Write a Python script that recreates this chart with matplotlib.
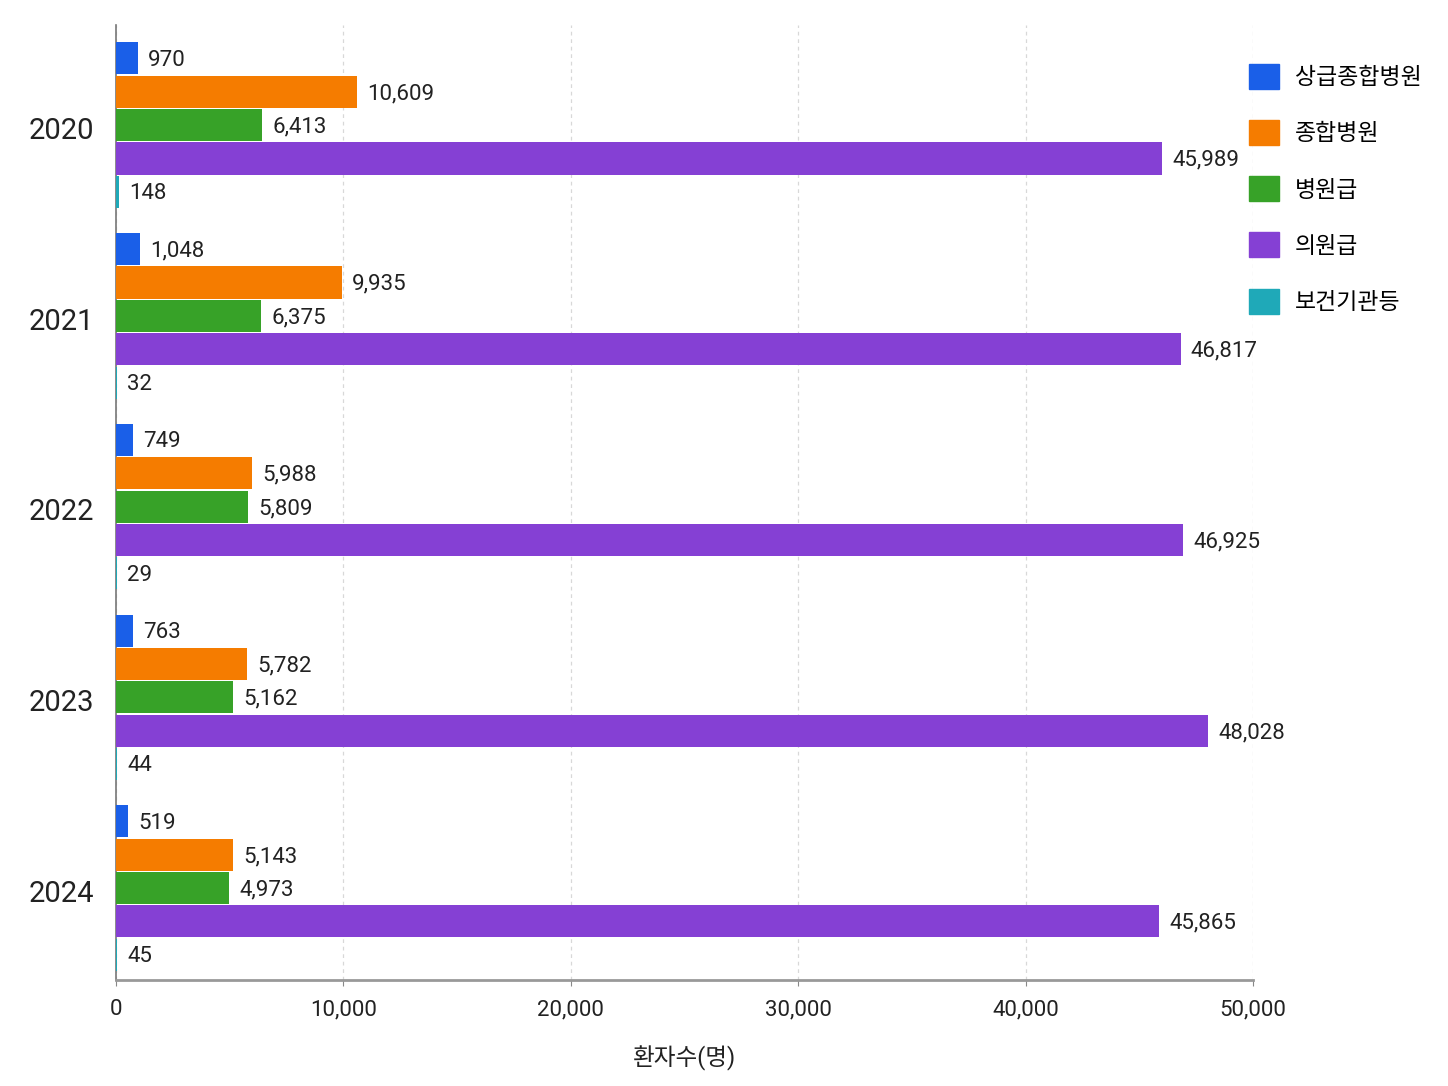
import matplotlib
matplotlib.use("Agg")
import matplotlib.pyplot as plt
from matplotlib.patches import Patch
import numpy as np

plt.rcParams['font.family'] = ['Roboto', 'Noto Sans CJK KR', 'DejaVu Sans']

years = ['2020', '2021', '2022', '2023', '2024']
series_names = ['상급종합병원', '종합병원', '병원급', '의원급', '보건기관등']
tertiary = [970, 1048, 749, 763, 519]
general = [10609, 9935, 5988, 5782, 5143]
hospital = [6413, 6375, 5809, 5162, 4973]
clinic = [45989, 46817, 46925, 48028, 45865]
public = [148, 32, 29, 44, 45]
series_values = [tertiary, general, hospital, clinic, public]
colors = ['#1a5fe8', '#f57c00', '#37a228', '#8540d4', '#1fa9b8']
xticks = [0, 10000, 20000, 30000, 40000, 50000]

fig = plt.figure(figsize=(14.48, 10.86), dpi=100)
ax = fig.add_axes([116/1448, 1-980/1086, (1253-116)/1448, (980-25)/1086])

step = 0.175
height = 0.168
y = np.arange(len(years))
for i, (name, vals, c) in enumerate(zip(series_names, series_values, colors)):
    pos = y + (i - 2) * step - 0.015
    ax.barh(pos, vals, height=height, color=c, label=name, zorder=3)
    for p, v in zip(pos, vals):
        ax.text(v + 450, p + 0.01, f"{v:,}", va='center', ha='left', fontsize=16, color='#222222', zorder=4)

ax.set_xlim(0, 50000)
ax.set_ylim(4.467, -0.54)
ax.set_yticks(y)
ax.set_yticklabels(years, fontsize=21, color='#222222')
ax.set_xticks(xticks)
ax.set_xticklabels([f"{t:,}" for t in xticks], fontsize=16, color='#222222')
ax.tick_params(axis='y', length=0, pad=16)
ax.tick_params(axis='x', length=4, color='#888888', pad=10)
ax.set_xlabel('환자수(명)', fontsize=17, color='#222222', labelpad=18)
ax.xaxis.grid(True, linestyle=(0, (3, 3)), color='#d8d8d8', linewidth=0.9, zorder=0)
for s in ['top', 'right']:
    ax.spines[s].set_visible(False)
ax.spines['left'].set_color('#777777')
ax.spines['left'].set_linewidth(1.2)
ax.spines['bottom'].set_color('#999999')
ax.spines['bottom'].set_linewidth(2)

handles = [Patch(facecolor=c, edgecolor=c, label=n) for n, c in zip(series_names, colors)]
fig.legend(handles=handles, loc='upper left', bbox_to_anchor=(1240/1448, 1-55/1086),
           frameon=False, fontsize=16.5, labelspacing=1.35, handlelength=1.3,
           handleheight=1.3, handletextpad=0.7, borderaxespad=0)

fig.savefig('out.png', dpi=100, facecolor='white')
